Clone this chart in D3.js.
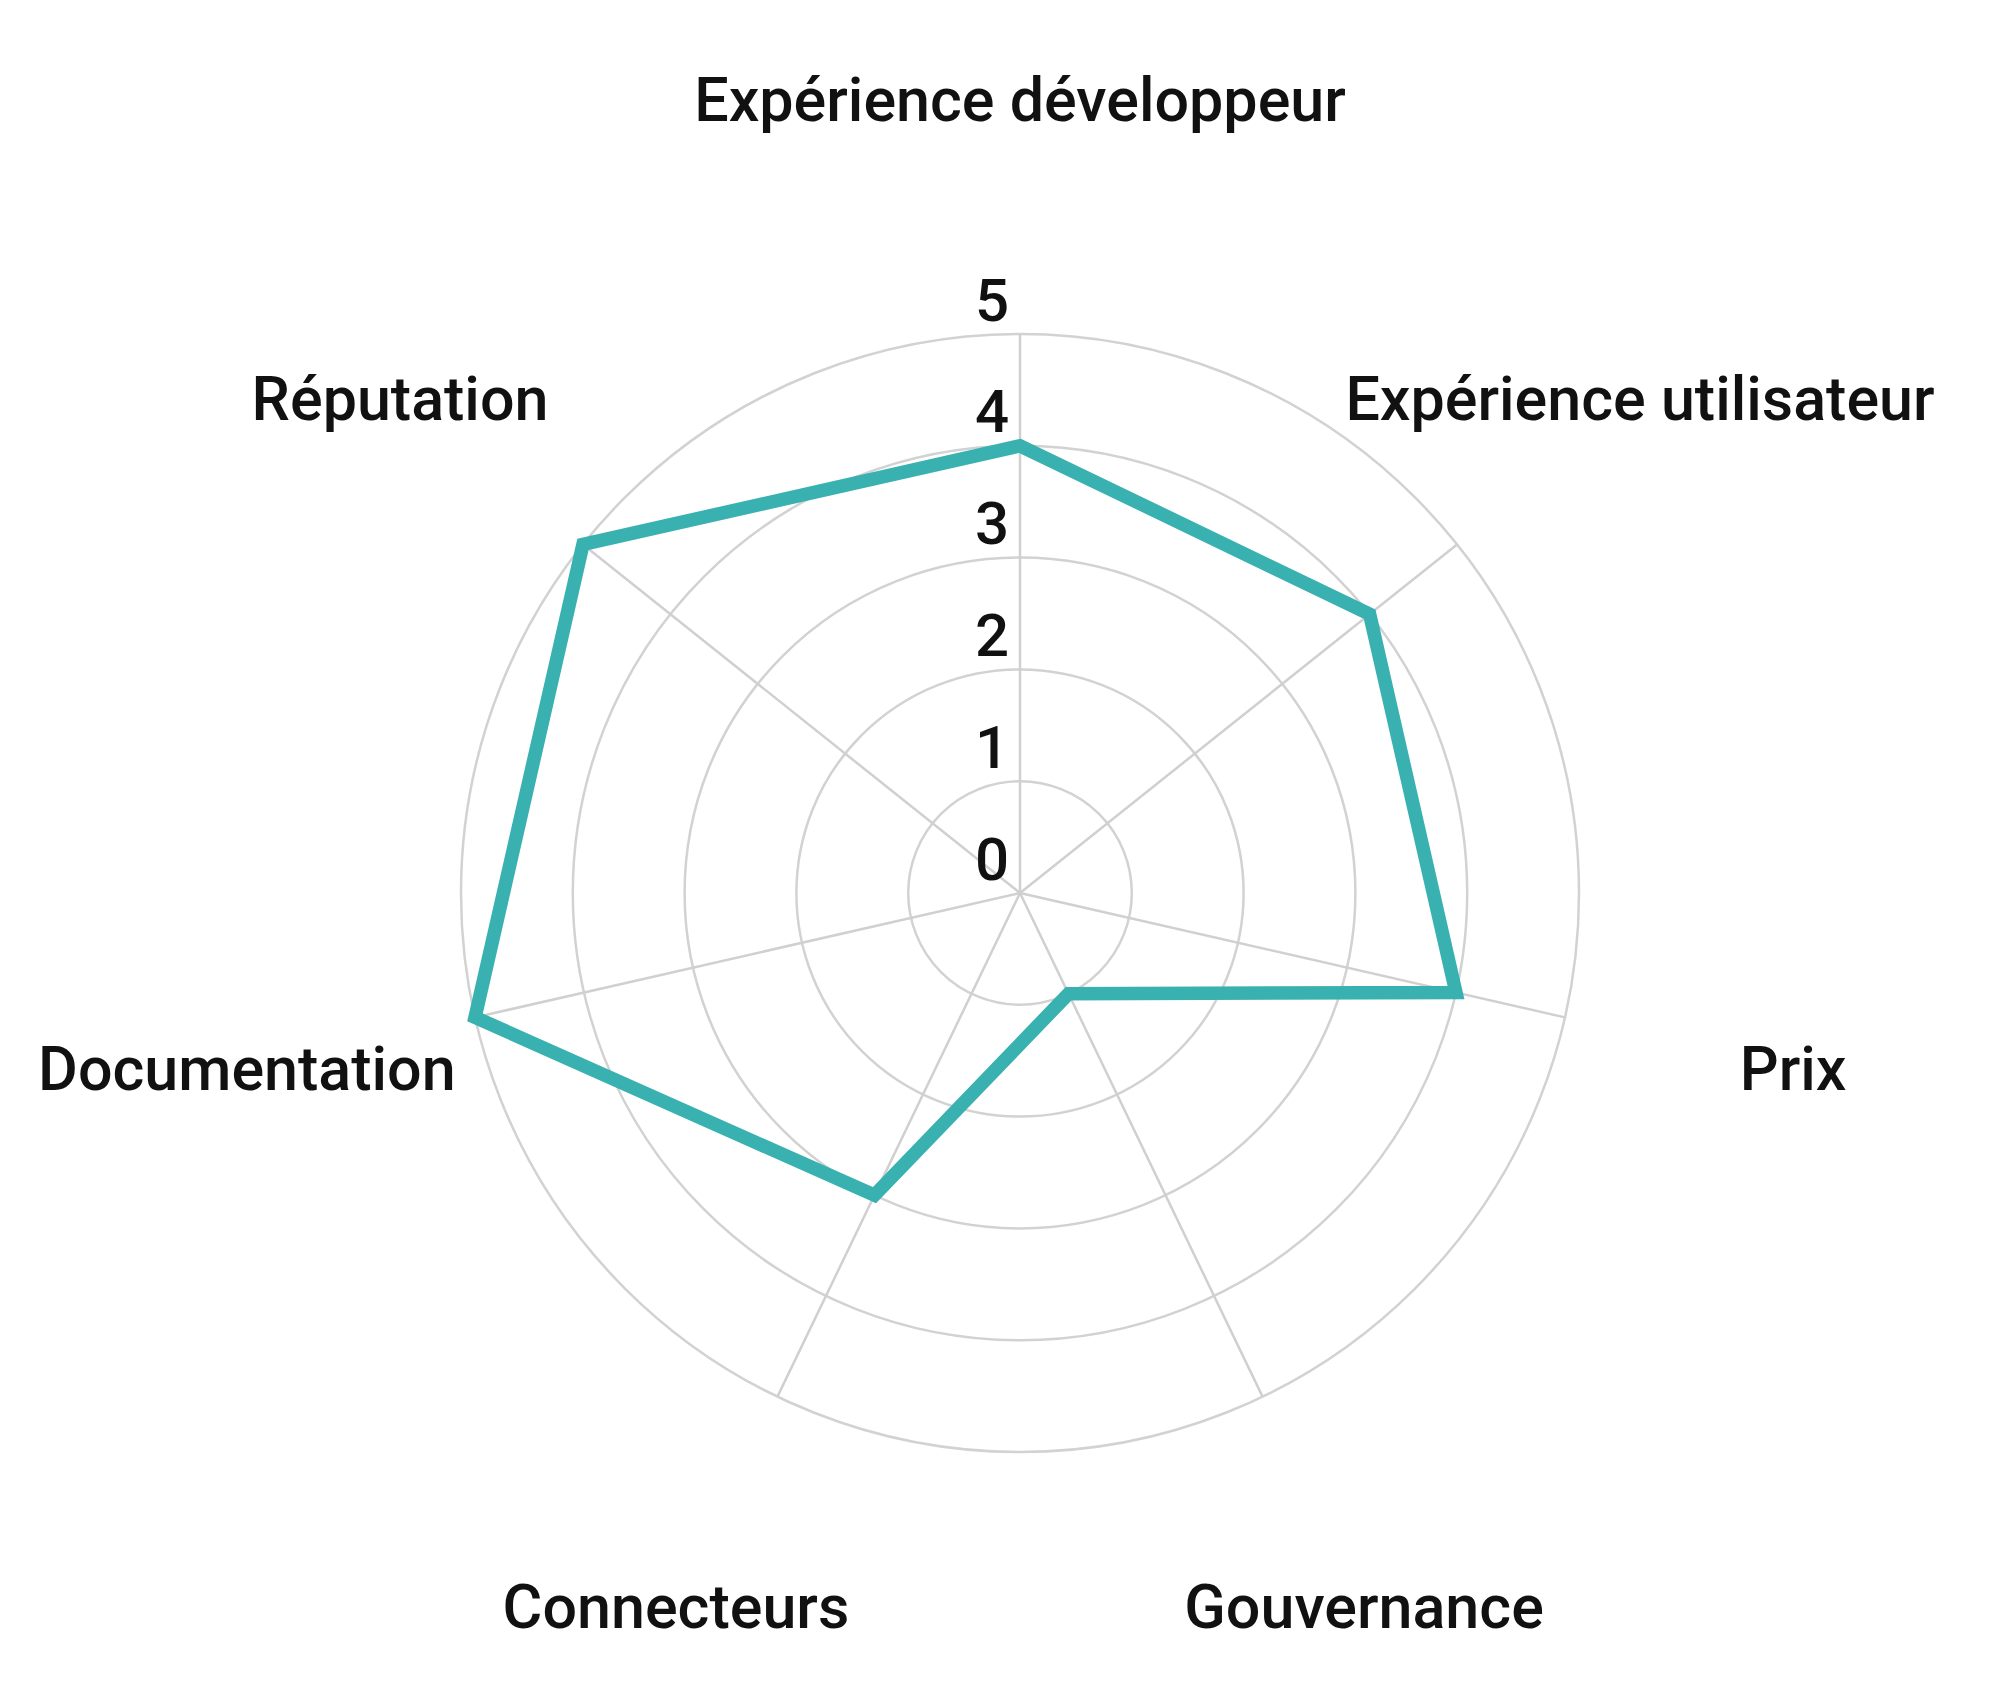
<!DOCTYPE html>
<html>
<head>
<meta charset="utf-8">
<script src="https://cdn.jsdelivr.net/npm/d3@7/dist/d3.min.js"></script>
<style>
  html, body { margin: 0; padding: 0; background: #fff; }
  svg { display: block; }
</style>
</head>
<body>
<script>
  const categories = ["Expérience développeur", "Expérience utilisateur", "Prix",
    "Gouvernance", "Connecteurs", "Documentation", "Réputation"];
  const scores = [4, 4, 4, 1, 3, 5, 5];
  const tickValues = [0, 1, 2, 3, 4, 5];

  const width = 2000;
  const height = 1699;
  const cx = 1020, cy = 893;
  const radius = 559;
  const labelRadius = 793;

  const svg = d3.select("body").append("svg")
    .attr("width", width)
    .attr("height", height);

  const g = svg.append("g").attr("transform", `translate(${cx},${cy})`);

  const r = d3.scaleLinear().domain([0, 5]).range([0, radius]);
  const angle = d3.scalePoint()
    .domain(categories)
    .range([0, 2 * Math.PI * (categories.length - 1) / categories.length]);

  const pos = (a, rr) => [rr * Math.sin(a), -rr * Math.cos(a)];

  // rings
  g.selectAll("circle.ring")
    .data(tickValues.slice(1))
    .enter().append("circle")
    .attr("class", "ring")
    .attr("r", d => r(d))
    .attr("fill", "none")
    .attr("stroke", "#d2d2d2")
    .attr("stroke-width", 2.5);

  // spokes
  g.selectAll("line.spoke")
    .data(categories)
    .enter().append("line")
    .attr("class", "spoke")
    .attr("x1", 0).attr("y1", 0)
    .attr("x2", d => pos(angle(d), radius)[0])
    .attr("y2", d => pos(angle(d), radius)[1])
    .attr("stroke", "#d0d0d0")
    .attr("stroke-width", 2.5);

  // data line
  const line = d3.lineRadial()
    .angle((d, i) => angle(categories[i]))
    .radius(d => r(d))
    .curve(d3.curveLinearClosed);

  g.append("path")
    .datum(scores)
    .attr("d", line)
    .attr("fill", "none")
    .attr("stroke", "#38b1b0")
    .attr("stroke-width", 13.5)
    .attr("stroke-linejoin", "miter");

  // tick labels
  g.selectAll("text.tick")
    .data(tickValues)
    .enter().append("text")
    .attr("class", "tick")
    .attr("x", -28)
    .attr("y", d => -r(d) - 34)
    .attr("text-anchor", "middle")
    .attr("dominant-baseline", "central")
    .style("font-family", "Roboto, sans-serif")
    .style("font-size", "60px")
    .style("font-weight", 500)
    .style("fill", "#111")
    .text(d => d);

  // point labels
  g.selectAll("text.label")
    .data(categories)
    .enter().append("text")
    .attr("class", "label")
    .attr("x", d => pos(angle(d), labelRadius)[0])
    .attr("y", d => pos(angle(d), labelRadius)[1])
    .attr("text-anchor", "middle")
    .attr("dominant-baseline", "central")
    .style("font-family", "Roboto, sans-serif")
    .style("font-size", "61px")
    .style("font-weight", 500)
    .style("fill", "#111")
    .text(d => d);
</script>
</body>
</html>
